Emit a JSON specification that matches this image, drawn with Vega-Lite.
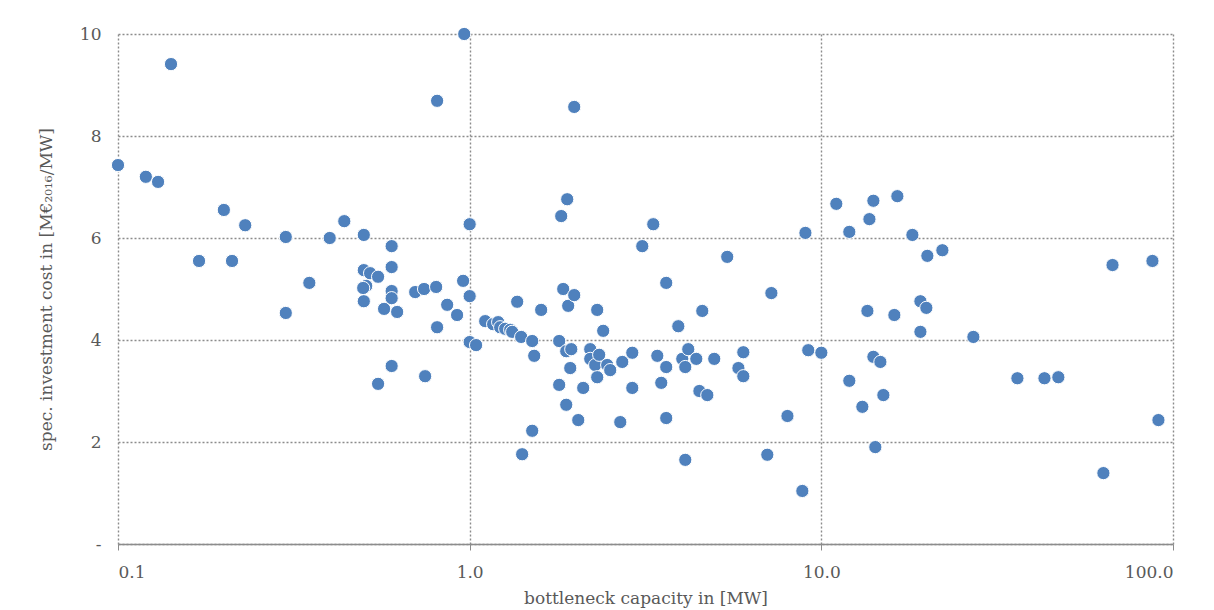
{
  "$schema": "https://vega.github.io/schema/vega-lite/v6.json",
  "autosize": {"type": "none"},
  "width": 1055,
  "height": 510,
  "padding": {"left": 118, "top": 34, "right": 41, "bottom": 66},
  "background": "white",
  "config": {
    "view": {"stroke": null},
    "font": "DejaVu Serif",
    "axis": {
      "labelFont": "DejaVu Serif",
      "titleFont": "DejaVu Serif",
      "labelColor": "#595959",
      "titleColor": "#595959",
      "labelFontSize": 17,
      "titleFontSize": 17,
      "titleFontWeight": "normal",
      "gridColor": "#8c8c8c",
      "gridDash": [2, 2],
      "gridWidth": 1.4,
      "gridOpacity": 1
    }
  },
  "data": {
    "values": [
      {"cap": 0.1, "cost": 7.43}, {"cap": 0.12, "cost": 7.2}, {"cap": 0.13, "cost": 7.1},
      {"cap": 0.1415, "cost": 9.41}, {"cap": 0.17, "cost": 5.55}, {"cap": 0.2, "cost": 6.55},
      {"cap": 0.211, "cost": 5.55}, {"cap": 0.23, "cost": 6.25}, {"cap": 0.3, "cost": 6.02},
      {"cap": 0.3, "cost": 4.53}, {"cap": 0.35, "cost": 5.12}, {"cap": 0.4, "cost": 6.0},
      {"cap": 0.44, "cost": 6.33}, {"cap": 0.5, "cost": 6.06}, {"cap": 0.5, "cost": 5.37},
      {"cap": 0.508, "cost": 5.06}, {"cap": 0.498, "cost": 5.02}, {"cap": 0.5, "cost": 4.76},
      {"cap": 0.521, "cost": 5.31}, {"cap": 0.549, "cost": 5.24}, {"cap": 0.549, "cost": 3.14},
      {"cap": 0.571, "cost": 4.61}, {"cap": 0.6, "cost": 5.84}, {"cap": 0.6, "cost": 5.43},
      {"cap": 0.6, "cost": 4.96}, {"cap": 0.6, "cost": 4.82}, {"cap": 0.6, "cost": 3.49},
      {"cap": 0.622, "cost": 4.55}, {"cap": 0.7, "cost": 4.94}, {"cap": 0.742, "cost": 5.0},
      {"cap": 0.747, "cost": 3.29}, {"cap": 0.803, "cost": 5.04}, {"cap": 0.808, "cost": 4.25},
      {"cap": 0.808, "cost": 8.69}, {"cap": 0.863, "cost": 4.69}, {"cap": 0.921, "cost": 4.49},
      {"cap": 0.958, "cost": 5.16}, {"cap": 0.965, "cost": 10.0}, {"cap": 1.0, "cost": 6.27},
      {"cap": 1.0, "cost": 4.86}, {"cap": 1.0, "cost": 3.96}, {"cap": 1.043, "cost": 3.9},
      {"cap": 1.107, "cost": 4.37}, {"cap": 1.166, "cost": 4.31}, {"cap": 1.205, "cost": 4.35},
      {"cap": 1.221, "cost": 4.25}, {"cap": 1.262, "cost": 4.22}, {"cap": 1.304, "cost": 4.2},
      {"cap": 1.321, "cost": 4.16}, {"cap": 1.365, "cost": 4.75}, {"cap": 1.401, "cost": 4.06},
      {"cap": 1.41, "cost": 1.76}, {"cap": 1.506, "cost": 3.98}, {"cap": 1.526, "cost": 3.69},
      {"cap": 1.506, "cost": 2.22}, {"cap": 1.597, "cost": 4.59}, {"cap": 1.797, "cost": 3.98},
      {"cap": 1.797, "cost": 3.12}, {"cap": 1.821, "cost": 6.43}, {"cap": 1.845, "cost": 5.0},
      {"cap": 1.882, "cost": 2.73}, {"cap": 1.894, "cost": 6.76}, {"cap": 1.906, "cost": 4.67},
      {"cap": 1.882, "cost": 3.78}, {"cap": 1.945, "cost": 3.82}, {"cap": 1.932, "cost": 3.45},
      {"cap": 1.983, "cost": 4.88}, {"cap": 1.983, "cost": 8.57}, {"cap": 2.036, "cost": 2.43},
      {"cap": 2.103, "cost": 3.06}, {"cap": 2.202, "cost": 3.82}, {"cap": 2.202, "cost": 3.63},
      {"cap": 2.275, "cost": 3.51}, {"cap": 2.305, "cost": 4.59}, {"cap": 2.305, "cost": 3.27},
      {"cap": 2.335, "cost": 3.71}, {"cap": 2.397, "cost": 4.18}, {"cap": 2.461, "cost": 3.51},
      {"cap": 2.51, "cost": 3.41}, {"cap": 2.681, "cost": 2.39}, {"cap": 2.716, "cost": 3.57},
      {"cap": 2.9, "cost": 3.75}, {"cap": 2.9, "cost": 3.06}, {"cap": 3.096, "cost": 5.84},
      {"cap": 3.327, "cost": 6.27}, {"cap": 3.416, "cost": 3.69}, {"cap": 3.506, "cost": 3.16},
      {"cap": 3.622, "cost": 5.12}, {"cap": 3.622, "cost": 3.47}, {"cap": 3.622, "cost": 2.47},
      {"cap": 3.92, "cost": 4.27}, {"cap": 4.023, "cost": 3.63}, {"cap": 4.103, "cost": 3.47},
      {"cap": 4.103, "cost": 1.65}, {"cap": 4.184, "cost": 3.82}, {"cap": 4.41, "cost": 3.63},
      {"cap": 4.5, "cost": 3.0}, {"cap": 4.586, "cost": 4.57}, {"cap": 4.74, "cost": 2.92},
      {"cap": 4.96, "cost": 3.63}, {"cap": 5.4, "cost": 5.63}, {"cap": 5.81, "cost": 3.45},
      {"cap": 6.0, "cost": 3.76}, {"cap": 6.0, "cost": 3.29}, {"cap": 7.02, "cost": 1.75},
      {"cap": 7.21, "cost": 4.92}, {"cap": 8.01, "cost": 2.51}, {"cap": 8.83, "cost": 1.04},
      {"cap": 9.01, "cost": 6.1}, {"cap": 9.18, "cost": 3.8}, {"cap": 10.0, "cost": 3.75},
      {"cap": 11.03, "cost": 6.67}, {"cap": 12.01, "cost": 6.12}, {"cap": 12.01, "cost": 3.2},
      {"cap": 13.08, "cost": 2.69}, {"cap": 13.52, "cost": 4.57}, {"cap": 13.7, "cost": 6.37},
      {"cap": 14.06, "cost": 6.73}, {"cap": 14.06, "cost": 3.67}, {"cap": 14.24, "cost": 1.9},
      {"cap": 14.72, "cost": 3.57}, {"cap": 15.01, "cost": 2.92}, {"cap": 16.13, "cost": 4.49},
      {"cap": 16.45, "cost": 6.82}, {"cap": 18.15, "cost": 6.06}, {"cap": 19.13, "cost": 4.76},
      {"cap": 19.13, "cost": 4.16}, {"cap": 19.89, "cost": 4.63}, {"cap": 20.02, "cost": 5.65},
      {"cap": 22.09, "cost": 5.76}, {"cap": 27.06, "cost": 4.06}, {"cap": 36.1, "cost": 3.25},
      {"cap": 43.1, "cost": 3.25}, {"cap": 47.2, "cost": 3.27}, {"cap": 63.4, "cost": 1.39},
      {"cap": 67.3, "cost": 5.47}, {"cap": 87.4, "cost": 5.55}, {"cap": 90.9, "cost": 2.43}
    ]
  },
  "mark": {"type": "point", "filled": true, "size": 175, "color": "#4f81bd", "opacity": 1, "stroke": "white", "strokeWidth": 1, "clip": false},
  "encoding": {
    "x": {
      "field": "cap",
      "type": "quantitative",
      "scale": {"type": "log", "domain": [0.1, 100], "nice": false},
      "axis": {
        "values": [0.1, 1, 10, 100],
        "format": ".1f",
        "title": "bottleneck capacity in [MW]",
        "grid": true,
        "domainColor": "#8c8c8c",
        "domainWidth": 1.5,
        "tickColor": "#8c8c8c",
        "tickSize": 6,
        "tickWidth": 1,
        "labelPadding": 14,
        "titlePadding": 10
      }
    },
    "y": {
      "field": "cost",
      "type": "quantitative",
      "scale": {"domain": [0, 10], "nice": false, "zero": true},
      "axis": {
        "values": [0, 2, 4, 6, 8, 10],
        "labelExpr": "datum.value == 0 ? '-' : datum.label",
        "title": "spec. investment cost in [M€₂₀₁₆/MW]",
        "grid": true,
        "domain": false,
        "ticks": false,
        "labelPadding": 17,
        "titlePadding": 24
      }
    }
  }
}
